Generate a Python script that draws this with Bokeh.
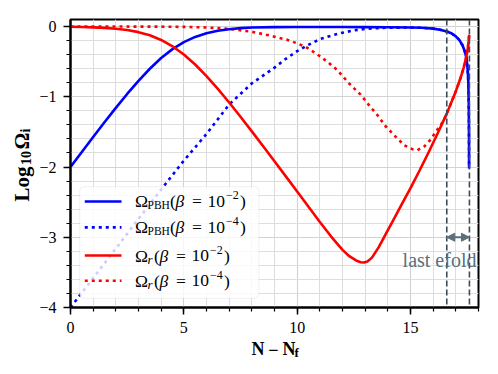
import numpy as np
from bokeh.plotting import figure
from bokeh.layouts import row, column
from bokeh.models import (Range1d, SingleIntervalTicker, CustomJSTickFormatter, Span,
                          Arrow, NormalHead, Label, BoxAnnotation)
from bokeh.embed import file_html
from bokeh.resources import INLINE

# ---------------- data ----------------
x_ticks = [0, 5, 10, 15]
y_ticks = [-4, -3, -2, -1, 0]

# Omega_PBH, beta = 1e-2 (solid blue)
n_pbh_2 = [0, 0.5, 1, 1.5, 2, 2.5, 3, 3.5, 4, 4.5, 5, 5.5, 6, 6.5, 7, 7.5, 8, 9, 10, 11, 12,
           13, 14, 15, 15.5, 16, 16.3, 16.6, 16.8, 17.0, 17.15, 17.3, 17.4, 17.47, 17.52,
           17.55, 17.57, 17.58, 17.585]
log_pbh_2 = [-2.0, -1.786, -1.573, -1.363, -1.158, -0.960, -0.773, -0.601, -0.449, -0.322,
             -0.222, -0.148, -0.095, -0.060, -0.038, -0.023, -0.014, -0.008, -0.006, -0.006,
             -0.007, -0.008, -0.010, -0.014, -0.018, -0.03, -0.045, -0.07, -0.095, -0.14,
             -0.19, -0.27, -0.36, -0.45, -0.6, -0.78, -1.1, -1.5, -2.02]

# Omega_PBH, beta = 1e-4 (dotted blue)
n_pbh_4 = [0, 1, 2, 3, 4, 5, 6, 7, 8, 9, 9.5, 10, 10.38, 11, 11.5, 12, 12.5, 13, 13.6, 14,
           15, 15.5, 16, 16.3, 16.6, 16.8, 17.0, 17.15, 17.3, 17.4, 17.47, 17.52, 17.55,
           17.57, 17.58, 17.585]
log_pbh_4 = [-4.0, -3.58, -3.16, -2.74, -2.32, -1.91, -1.53, -1.11, -0.81, -0.585, -0.46,
             -0.35, -0.28, -0.18, -0.13, -0.088, -0.055, -0.035, -0.022, -0.016, -0.014,
             -0.018, -0.03, -0.045, -0.07, -0.095, -0.14, -0.19, -0.27, -0.36, -0.45, -0.6,
             -0.78, -1.1, -1.5, -2.02]

# Omega_r, beta = 1e-2 (solid red)
n_r_2 = [0, 0.5, 1, 1.5, 2, 2.5, 3, 3.5, 4, 4.5, 5, 5.5, 6, 6.5, 7, 7.5, 8, 8.5, 9, 9.5, 10,
         10.5, 11, 11.5, 12, 12.3, 12.6, 12.8, 12.95, 13.1, 13.3, 13.6, 13.9, 14.2, 14.6,
         15.0, 15.4, 15.8, 16.2, 16.6, 17.0, 17.2, 17.35, 17.45, 17.52, 17.56, 17.59]
log_r_2 = [-0.004, -0.007, -0.012, -0.019, -0.031, -0.050, -0.080, -0.125, -0.191, -0.281,
           -0.398, -0.541, -0.705, -0.888, -1.082, -1.285, -1.493, -1.705, -1.918, -2.133,
           -2.349, -2.566, -2.782, -2.99, -3.18, -3.27, -3.33, -3.355, -3.36, -3.345, -3.29,
           -3.14, -2.96, -2.78, -2.54, -2.30, -2.05, -1.79, -1.52, -1.24, -0.92, -0.74,
           -0.58, -0.45, -0.33, -0.22, -0.12]

# Omega_r, beta = 1e-4 (dotted red)
n_r_4 = [0, 2, 4, 5, 6, 7, 8, 8.68, 9, 9.57, 10, 10.38, 11.04, 11.4, 11.77, 12.29, 12.8,
         13.17, 13.54, 13.9, 14.35, 14.72, 15.11, 15.3, 15.6, 15.89, 16.11, 16.34, 16.5,
         16.6, 17.0, 17.2, 17.35, 17.45, 17.52, 17.56, 17.59]
log_r_4 = [0.0, -0.0003, -0.002, -0.005, -0.013, -0.033, -0.075, -0.12, -0.145, -0.19,
           -0.24, -0.29, -0.43, -0.52, -0.62, -0.81, -0.97, -1.12, -1.26, -1.42, -1.57,
           -1.69, -1.75, -1.76, -1.71, -1.61, -1.50, -1.40, -1.31, -1.24, -0.92, -0.74,
           -0.58, -0.45, -0.33, -0.22, -0.12]

last_efold_start = 16.6
last_efold_end = 17.6

# ---------------- main figure ----------------
SERIF = "Liberation Serif"
p = figure(frame_width=408, frame_height=288, x_range=Range1d(0, 18), y_range=Range1d(-4, 0.1),
           min_border_left=34, min_border_right=18, min_border_top=19, min_border_bottom=28,
           output_backend="svg", toolbar_location=None, background_fill_color="white",
           border_fill_color="white")

p.outline_line_color = "black"
p.outline_line_width = 2

p.xaxis.ticker = SingleIntervalTicker(interval=5, num_minor_ticks=5)
p.yaxis.ticker = SingleIntervalTicker(interval=1, num_minor_ticks=5)
fmt = CustomJSTickFormatter(code="return tick < 0 ? '\u2212' + Math.abs(tick) : String(tick);")
for ax in (p.xaxis[0], p.yaxis[0]):
    ax.formatter = fmt
    ax.axis_line_width = 2
    ax.axis_line_color = "black"
    ax.major_tick_in = 0
    ax.major_tick_out = 7
    ax.minor_tick_in = 0
    ax.minor_tick_out = 4
    ax.major_tick_line_width = 1.5
    ax.minor_tick_line_width = 1.2
    ax.major_tick_line_color = "black"
    ax.minor_tick_line_color = "black"
    ax.major_label_text_font = SERIF
    ax.major_label_text_font_size = "16px"
    ax.major_label_text_color = "black"
    ax.major_label_standoff = 7

for g in (p.xgrid[0], p.ygrid[0]):
    g.grid_line_color = "#d2d2d2"
    g.grid_line_width = 1.1
    g.minor_grid_line_color = "#dedede"
    g.minor_grid_line_width = 1.0
p.xgrid[0].ticker = p.xaxis[0].ticker
p.ygrid[0].ticker = p.yaxis[0].ticker

BLUE = "#0000ff"
RED = "#ff0000"
LW = 2.6
DOT = "3 4"

p.line(n_pbh_4, log_pbh_4, line_color=BLUE, line_width=LW, line_dash=DOT)
p.line(n_r_4, log_r_4, line_color=RED, line_width=LW, line_dash=DOT)
p.line(n_pbh_2, log_pbh_2, line_color=BLUE, line_width=LW)
p.line(n_r_2, log_r_2, line_color=RED, line_width=LW)

# last e-fold markers
DASHC = "#3d4a5c"
for loc in (last_efold_start, last_efold_end):
    p.add_layout(Span(location=loc, dimension="height", line_color=DASHC, line_width=1.6,
                      line_dash="6 3"))
GRAYT = "#5b6f7a"
p.add_layout(Arrow(x_start=last_efold_start, x_end=last_efold_end, y_start=-3.0, y_end=-3.0,
                   line_color=GRAYT, line_width=2,
                   start=NormalHead(size=8, fill_color=GRAYT, line_color=GRAYT),
                   end=NormalHead(size=8, fill_color=GRAYT, line_color=GRAYT)))
p.add_layout(Label(x=16.28, y=-3.33, text="last efold", text_align="center",
                   text_baseline="middle", text_font=SERIF, text_font_size="20px",
                   text_color=GRAYT))

# ---------------- legend (manual, to get sub/superscripts) ----------------
p.add_layout(BoxAnnotation(left=0.41, right=8.31, top=-2.28, bottom=-3.87,
                           fill_color="white", fill_alpha=0.8, line_color="#cccccc",
                           line_width=1, border_radius=4))

rows_y = [-2.49, -2.86, -3.26, -3.62]
row_col = [BLUE, BLUE, RED, RED]
row_dash = ["solid", DOT, "solid", DOT]
row_sub = ["PBH", "PBH", "r", "r"]
row_exp = ["\u22122", "\u22124", "\u22122", "\u22124"]


def lab(fig, x, y, text, dx=0, dy=0, size="16px", style="normal", **kw):
    fig.add_layout(Label(x=x, y=y, x_offset=dx, y_offset=dy, text=text, text_font=SERIF,
                         text_font_size=size, text_font_style=style, text_color="black",
                         **kw))


LEG = "17.5px"
LEG_S = "12px"
for ry, col, dash, sub, ex in zip(rows_y, row_col, row_dash, row_sub, row_exp):
    r = p.segment(x0=[0.63], y0=[ry], x1=[2.25], y1=[ry], line_color=col, line_width=LW,
                  line_dash=dash)
    r.level = "overlay"
    base = dict(text_baseline="middle")
    lab(p, 0, ry, "\u03a9", 64.5, 0, size=LEG, **base)
    if sub == "PBH":
        lab(p, 0, ry, "PBH", 77, -4, size="11.5px", **base)
        off = 99.5
    else:
        lab(p, 0, ry, "r", 77, -4, size="13px", style="italic", **base)
        off = 83.5
    lab(p, 0, ry, "(", off, 0, size=LEG, **base)
    lab(p, 0, ry, "\u03b2", off + 5.5, 0, size=LEG, style="italic", **base)
    lab(p, 0, ry, "=", off + 22, 0, size=LEG, **base)
    lab(p, 0, ry, "10", off + 37.5, 0, size=LEG, **base)
    lab(p, 0, ry, ex, off + 56, 6, size=LEG_S, **base)
    lab(p, 0, ry, ")", off + 70, 0, size=LEG, **base)

# ---------------- axis-label strips (sub-scripted titles) ----------------
XL_W, XL_H = 460, 37
xlab = figure(width=XL_W, height=XL_H, x_range=Range1d(0, XL_W), y_range=Range1d(0, XL_H),
              x_axis_location=None, y_axis_location=None, min_border=0,
              output_backend="svg", toolbar_location=None, outline_line_color=None)
xlab.grid.visible = False
xb = dict(size="18px", style="bold", text_baseline="alphabetic")
lab(xlab, 204.0, 23.3, "N", **xb)
lab(xlab, 223.0, 23.3, "\u2212", **xb)
lab(xlab, 239.0, 23.3, "N", **xb)
lab(xlab, 252.5, 20.0, "f", size="13px", style="bold", text_baseline="alphabetic")

YL_W, YL_H = 36, 372
ylab = figure(width=YL_W, height=YL_H, x_range=Range1d(0, YL_W), y_range=Range1d(0, YL_H),
              x_axis_location=None, y_axis_location=None, min_border=0,
              output_backend="svg", toolbar_location=None, outline_line_color=None)
ylab.grid.visible = False
ang = np.pi / 2
lab(ylab, 21, 171, "Log", size="21px", style="bold", angle=ang, text_baseline="alphabetic")
lab(ylab, 25, 207.5, "10", size="14px", style="bold", angle=ang, text_baseline="alphabetic")
lab(ylab, 21, 223, "\u03a9", size="21px", style="bold", angle=ang, text_baseline="alphabetic")
lab(ylab, 25, 240, "i", size="14px", style="bold", angle=ang, text_baseline="alphabetic")

layout = row(ylab, column(p, xlab))
open("out.html", "w").write(file_html(layout, INLINE))
